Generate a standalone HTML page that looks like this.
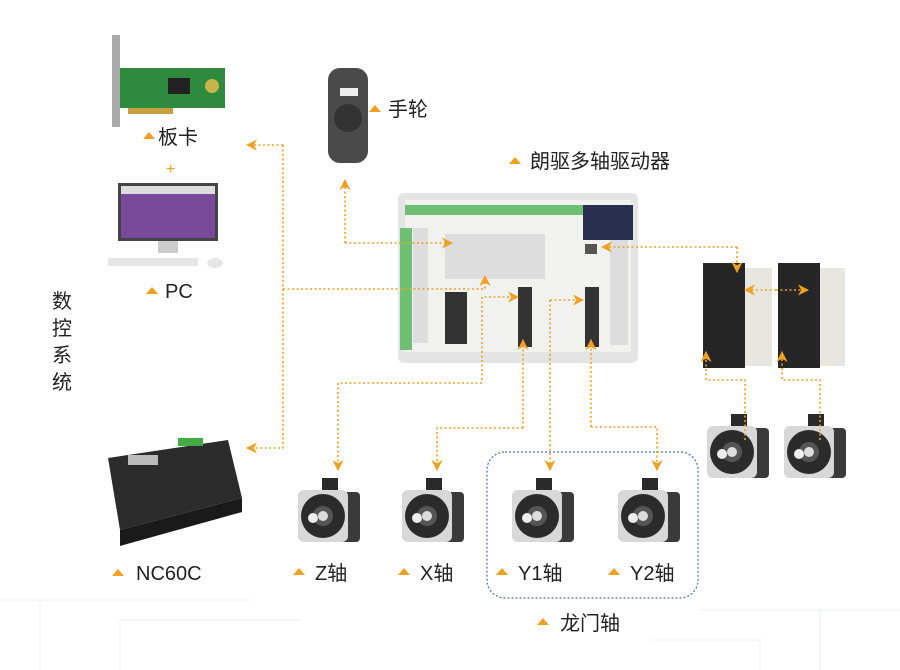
<!DOCTYPE html>
<html><head><meta charset="utf-8"><style>
html,body{margin:0;padding:0;background:#fff}
svg{display:block}
text{font-family:"Liberation Sans","Noto Sans CJK SC",sans-serif;fill:#222}
</style></head><body>
<svg width="900" height="670" viewBox="0 0 900 670" xmlns="http://www.w3.org/2000/svg">
<defs>
<g id="motor">
 <rect x="24" y="0" width="16" height="16" fill="#2a2a2a"/>
 <rect x="30" y="14" width="32" height="50" rx="4" fill="#3a3a3a"/>
 <rect x="0" y="12" width="50" height="52" rx="6" fill="#d8d8d8"/>
 <circle cx="25" cy="38" r="22" fill="#2b2b2b"/>
 <circle cx="25" cy="38" r="10" fill="#555"/>
 <circle cx="25" cy="38" r="5" fill="#ddd"/>
 <circle cx="15" cy="40" r="5" fill="#eee"/>
</g>
<g id="tri"><polygon points="0,7 6,0 12,7" fill="#f0a020"/></g>
<marker id="ar" viewBox="0 0 10 10" refX="9" refY="5" markerWidth="7" markerHeight="7" orient="auto"><path d="M0,0 L10,5 L0,10 L3,5z" fill="#f0a020"/></marker>
</defs>
<g stroke="#f5f6f8" stroke-width="2" fill="none">
 <path d="M0 600 H250 M40 670 V600 M120 670 V620 H300 M700 610 H900 M820 670 V610 M760 670 V640 H650"/>
</g>
<!-- card -->
<rect x="112" y="35" width="8" height="92" fill="#aaa"/>
<rect x="120" y="68" width="105" height="40" fill="#2e8b3e"/>
<rect x="168" y="78" width="22" height="16" fill="#222"/>
<circle cx="212" cy="86" r="7" fill="#c9b44a"/>
<rect x="128" y="108" width="45" height="6" fill="#c9a040"/>
<use href="#tri" x="143" y="132"/><text x="158" y="144" font-size="20">板卡</text>
<text x="166" y="174" font-size="16" style="fill:#f0a020">+</text>
<!-- PC -->
<rect x="118" y="183" width="100" height="58" fill="#444"/>
<rect x="121" y="186" width="94" height="52" fill="#7a4a9a"/>
<rect x="121" y="186" width="94" height="8" fill="#ddd"/>
<rect x="158" y="241" width="20" height="12" fill="#ccc"/>
<rect x="108" y="258" width="90" height="8" fill="#e6e6e6"/>
<ellipse cx="215" cy="263" rx="8" ry="5" fill="#e6e6e6"/>
<use href="#tri" x="146" y="287"/><text x="165" y="298" font-size="20">PC</text>
<text font-size="20"><tspan x="52" y="308">数</tspan><tspan x="52" y="335">控</tspan><tspan x="52" y="362">系</tspan><tspan x="52" y="389">统</tspan></text>
<!-- NC60C -->
<polygon points="108,458 228,440 242,498 120,530" fill="#2c2c2c"/>
<polygon points="120,530 242,498 242,512 120,546" fill="#1a1a1a"/>
<rect x="128" y="455" width="30" height="10" fill="#bbb"/>
<rect x="178" y="438" width="25" height="8" fill="#4a4"/>
<use href="#tri" x="112" y="569"/><text x="136" y="580" font-size="20">NC60C</text>
<!-- handwheel -->
<rect x="328" y="68" width="40" height="95" rx="12" fill="#4a4a4a"/>
<circle cx="348" cy="118" r="14" fill="#333"/>
<rect x="340" y="88" width="18" height="8" fill="#eee"/>
<use href="#tri" x="369" y="105"/><text x="388" y="116" font-size="20">手轮</text>
<use href="#tri" x="509" y="157"/><text x="530" y="168" font-size="20">朗驱多轴驱动器</text>
<!-- controller -->
<rect x="398" y="193" width="240" height="170" rx="6" fill="#e4e4e4"/>
<rect x="405" y="200" width="226" height="152" fill="#f1f1ef"/>
<rect x="405" y="205" width="180" height="10" fill="#6fbf73"/>
<rect x="400" y="228" width="12" height="122" fill="#6fbf73"/>
<rect x="413" y="228" width="15" height="115" fill="#ddd"/>
<rect x="445" y="234" width="100" height="45" fill="#ddd"/>
<rect x="583" y="205" width="50" height="35" fill="#2a3050"/>
<rect x="610" y="240" width="18" height="105" fill="#ddd"/>
<rect x="445" y="292" width="22" height="52" fill="#333"/>
<rect x="518" y="287" width="14" height="60" fill="#333"/>
<rect x="585" y="287" width="14" height="60" fill="#333"/>
<rect x="585" y="244" width="12" height="10" fill="#555"/>
<!-- drives -->
<rect x="745" y="268" width="27" height="98" fill="#e8e6e0"/>
<rect x="703" y="263" width="42" height="105" fill="#262626"/>
<rect x="820" y="268" width="25" height="98" fill="#e8e6e0"/>
<rect x="778" y="263" width="42" height="105" fill="#262626"/>
<use href="#motor" x="707" y="414"/>
<use href="#motor" x="784" y="414"/>
<!-- motors -->
<use href="#motor" x="298" y="478"/>
<use href="#motor" x="402" y="478"/>
<use href="#motor" x="512" y="478"/>
<use href="#motor" x="618" y="478"/>
<rect x="487" y="452" width="211" height="146" rx="18" fill="none" stroke="#4a6fa8" stroke-width="1.2" stroke-dasharray="2,2"/>
<use href="#tri" x="293" y="568"/><text x="315" y="580" font-size="20">Z轴</text>
<use href="#tri" x="398" y="568"/><text x="420" y="580" font-size="20">X轴</text>
<use href="#tri" x="496" y="568"/><text x="518" y="580" font-size="20">Y1轴</text>
<use href="#tri" x="608" y="568"/><text x="630" y="580" font-size="20">Y2轴</text>
<use href="#tri" x="537" y="618"/><text x="560" y="630" font-size="20">龙门轴</text>
<!-- dotted connectors (on top) -->
<g stroke="#f0a020" stroke-width="1.6" stroke-dasharray="2,2.5" fill="none">
 <path d="M283 145 H247" marker-end="url(#ar)"/>
 <path d="M283 145 V448 H247" marker-end="url(#ar)"/>
 <path d="M283 289 H485 V276" marker-end="url(#ar)"/>
 <path d="M345 243 V180" marker-end="url(#ar)"/>
 <path d="M345 243 H452" marker-end="url(#ar)"/>
 <path d="M482 380 V297 H518" marker-end="url(#ar)"/>
 <path d="M482 383 H338 V470" marker-end="url(#ar)"/>
 <path d="M523 428 V340" marker-end="url(#ar)"/>
 <path d="M523 428 H437 V470" marker-end="url(#ar)"/>
 <path d="M550 300 H583" marker-end="url(#ar)"/>
 <path d="M550 300 V470" marker-end="url(#ar)"/>
 <path d="M591 427 V340" marker-end="url(#ar)"/>
 <path d="M591 427 H657 V470" marker-end="url(#ar)"/>
 <path d="M737 247 H602" marker-end="url(#ar)"/>
 <path d="M737 247 V272" marker-end="url(#ar)"/>
 <path d="M776 290 H745" marker-end="url(#ar)"/>
 <path d="M776 290 H808" marker-end="url(#ar)"/>
 <path d="M745 440 V380 H706 V352" marker-end="url(#ar)"/>
 <path d="M820 440 V380 H782 V352" marker-end="url(#ar)"/>
</g>
</svg>
</body></html>
